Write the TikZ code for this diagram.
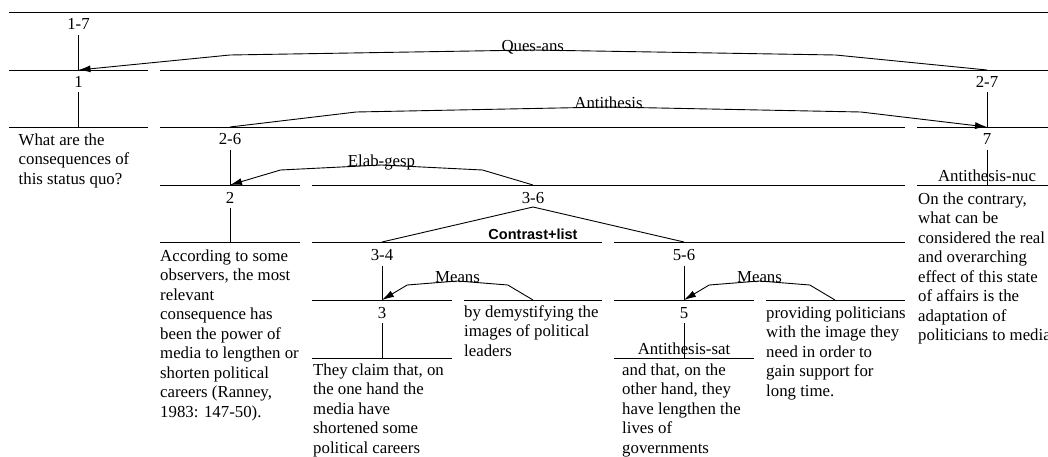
\documentclass[tikz,border=0pt]{standalone}
\usepackage{fontspec}
\setmainfont{Liberation Serif}
\newfontfamily\labsans{Liberation Sans}
\usetikzlibrary{arrows.meta}
\begin{document}
\begin{tikzpicture}[x=1pt,y=-1pt,
  seg/.style={line width=0.9pt},
  rel/.style={line width=0.9pt,-{Latex[length=12pt,width=7pt]}},
  txt/.style={anchor=north west,inner sep=0pt,align=left,font=\fontsize{16.8}{19.5}\selectfont},
  lab/.style={anchor=base,inner sep=0pt,font=\fontsize{16.8}{19.5}\selectfont},
  clab/.style={anchor=base,inner sep=0pt,font=\labsans\bfseries\fontsize{14.5}{17}\selectfont}]
\useasboundingbox (0,0) rectangle (1048,457);
\begin{scope}
\clip (0,0) rectangle (1048,457);
% horizontal span lines
\draw[seg] (9,12) -- (1057,12);
\draw[seg] (9,70) -- (148,70);   \draw[seg] (160,70) -- (1057,70);
\draw[seg] (9,127) -- (148,127); \draw[seg] (160,127) -- (905,127); \draw[seg] (917,127) -- (1057,127);
\draw[seg] (160,185) -- (300,185); \draw[seg] (312,185) -- (905,185); \draw[seg] (917,185) -- (1057,185);
\draw[seg] (160,242) -- (300,242); \draw[seg] (312,242) -- (602,242); \draw[seg] (614,242) -- (905,242);
\draw[seg] (312,300) -- (452,300); \draw[seg] (464,300) -- (602,300); \draw[seg] (614,300) -- (754,300); \draw[seg] (766,300) -- (905,300);
\draw[seg] (312,358) -- (452,358); \draw[seg] (614,358) -- (754,358);
% anchor points
\coordinate (n1) at (78.5,70);
\coordinate (n27) at (987,70);
\coordinate (n26) at (230,127);
\coordinate (n7) at (987,127);
\coordinate (n2) at (230,185);
\coordinate (n36) at (533,185);
\coordinate (n34) at (382,242);
\coordinate (n56) at (684,242);
\coordinate (n3) at (382,300);
\coordinate (n4) at (533,300);
\coordinate (n5) at (684,300);
\coordinate (n6) at (835,300);
\coordinate (b1) at (78.5,127);
\coordinate (b2) at (230,242);
\coordinate (b7) at (987,185);
\coordinate (b3) at (382,358);
\coordinate (b5) at (684,358);
% span labels
\node[lab] (l17) at (78.5,30) {1-7};
\node[lab] (l1) at (78.5,87.5) {1};
\node[lab] (l27) at (987,87.5) {2-7};
\node[lab] (l26) at (230,145) {2-6};
\node[lab] (l7) at (987,145) {7};
\node[lab] (l2) at (230,203) {2};
\node[lab] (l36) at (533,203) {3-6};
\node[lab] (l34) at (382,260.5) {3-4};
\node[lab] (l56) at (684,260.5) {5-6};
\node[lab] (l3) at (382,318) {3};
\node[lab] (l5) at (684,318) {5};
% vertical lines
\draw[seg] ([yshift=-5pt]l17.base) -- (n1);
\draw[seg] ([yshift=-5pt]l1.base) -- (b1);
\draw[seg] ([yshift=-5pt]l27.base) -- (n7);
\draw[seg] ([yshift=-5pt]l26.base) -- (n2);
\draw[seg] ([yshift=-5pt]l7.base) -- (b7);
\draw[seg] ([yshift=-5pt]l2.base) -- (b2);
\draw[seg] ([yshift=-5pt]l34.base) -- (n3);
\draw[seg] ([yshift=-5pt]l56.base) -- (n5);
\draw[seg] ([yshift=-5pt]l3.base) -- (b3);
\draw[seg] ([yshift=-5pt]l5.base) -- (b5);
% multinuclear contrast
\coordinate (apex) at (533,207);
\draw[seg] (n34) -- (apex) -- (n56);
\node[clab] (cl) at (533,239) {Contrast+list};
% relation arcs
\coordinate (qa1) at (230,55); \coordinate (qa2) at (532.75,50); \coordinate (qa3) at (835.5,55);
\draw[rel] (n27) -- (qa3) -- (qa2) -- (qa1) -- (n1);
\node[lab] (rqa) at (532.75,51.5) {Ques-ans};
\coordinate (an1) at (356.2,112); \coordinate (an2) at (608.5,107); \coordinate (an3) at (860.8,112);
\draw[rel] (n26) -- (an1) -- (an2) -- (an3) -- (n7);
\node[lab] (ran) at (608.5,108.5) {Antithesis};
\coordinate (el1) at (482.5,170); \coordinate (el2) at (381.5,165); \coordinate (el3) at (280.5,170);
\draw[rel] (n36) -- (el1) -- (el2) -- (el3) -- (n2);
\node[lab] (rel) at (381.5,166.5) {Elab-gesp};
\coordinate (ma1) at (507.8,285); \coordinate (ma2) at (457.5,281); \coordinate (ma3) at (407.2,285);
\draw[rel] (n4) -- (ma1) -- (ma2) -- (ma3) -- (n3);
\node[lab] (rma) at (457.5,282.5) {Means};
\coordinate (mb1) at (809.8,285); \coordinate (mb2) at (759.5,281); \coordinate (mb3) at (709.2,285);
\draw[rel] (n6) -- (mb1) -- (mb2) -- (mb3) -- (n5);
\node[lab] (rmb) at (759.5,282.5) {Means};
% role labels
\node[lab] (asat) at (684,354.5) {Antithesis-sat};
\node[lab] (anuc) at (987,181.5) {Antithesis-nuc};
% texts
\node[txt] (t1) at (18.5,131.35) {\strut What are the\\consequences of\\this status quo?};
\node[txt] (t2) at (160,247.35) {\strut According to some\\observers, the most\\relevant\\consequence has\\been the power of\\media to lengthen or\\shorten political\\careers (Ranney,\\1983: 147-50).};
\node[txt] (t3) at (313,361.35) {\strut They claim that, on\\the one hand the\\media have\\shortened some\\political careers};
\node[txt] (t4) at (464,303.35) {\strut by demystifying the\\images of political\\leaders};
\node[txt] (t5) at (622,361.35) {\strut and that, on the\\other hand, they\\have lengthen the\\lives of\\governments};
\node[txt] (t6) at (766,304.35) {\strut providing politicians\\with the image they\\need in order to\\gain support for\\long time.};
\node[txt] (t7) at (918,190.35) {\strut On the contrary,\\what can be\\considered the real\\and overarching\\effect of this state\\of affairs is the\\adaptation of\\politicians to media};
\end{scope}
\end{tikzpicture}
\end{document}
